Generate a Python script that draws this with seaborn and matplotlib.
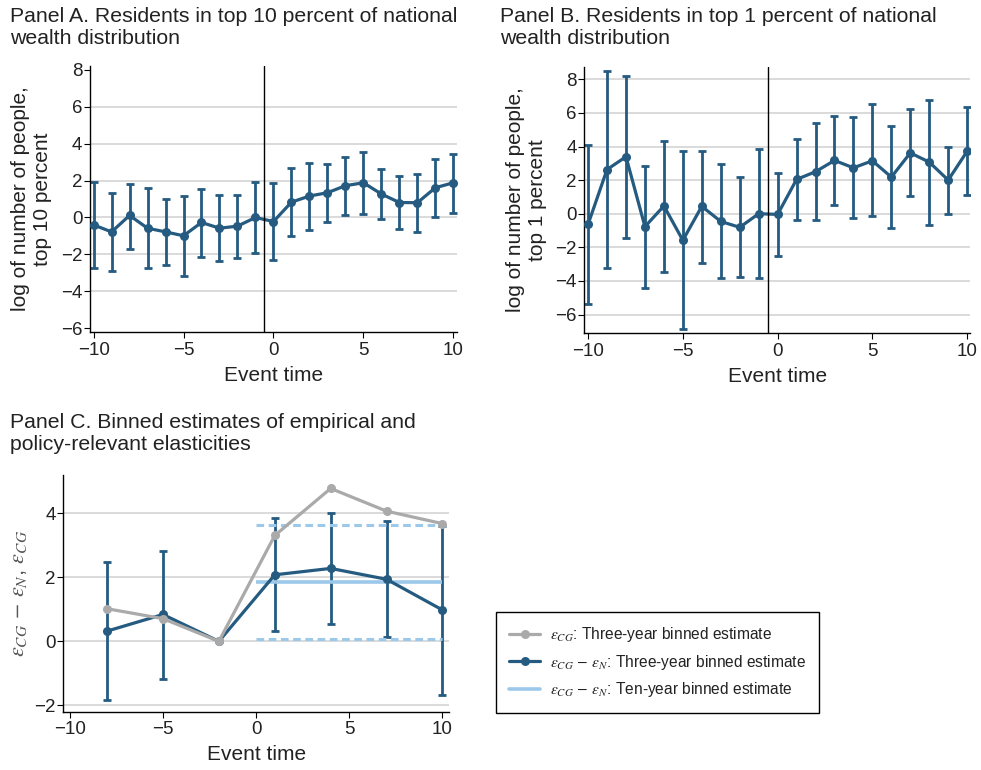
import numpy as np
import pandas as pd
import matplotlib
matplotlib.use("Agg")
import matplotlib.pyplot as plt
import seaborn as sns
from matplotlib.lines import Line2D

# ---------------- data ----------------
event_time = list(range(-10, 11))

a_est = [-0.40, -0.78, 0.11, -0.58, -0.78, -0.99, -0.27, -0.58, -0.47, 0.00, -0.22,
         0.83, 1.16, 1.34, 1.72, 1.88, 1.27, 0.81, 0.80, 1.61, 1.88]
a_hi = [1.92, 1.34, 1.83, 1.57, 0.99, 1.16, 1.56, 1.21, 1.23, 1.93, 1.84,
        2.68, 2.95, 2.91, 3.25, 3.56, 2.60, 2.24, 2.35, 3.18, 3.45]
a_lo = [-2.75, -2.88, -1.68, -2.71, -2.57, -3.18, -2.15, -2.37, -2.19, -1.93, -2.28,
        -0.99, -0.67, -0.25, 0.13, 0.20, -0.07, -0.61, -0.76, 0.00, 0.25]

b_est = [-0.63, 2.63, 3.39, -0.77, 0.46, -1.58, 0.44, -0.46, -0.81, 0.00, -0.04,
         2.04, 2.50, 3.17, 2.73, 3.15, 2.18, 3.62, 3.07, 2.00, 3.72]
b_hi = [4.08, 8.48, 8.22, 2.83, 4.34, 3.74, 3.76, 2.95, 2.20, 3.84, 2.44,
        4.44, 5.39, 5.82, 5.74, 6.50, 5.23, 6.24, 6.79, 3.96, 6.34]
b_lo = [-5.39, -3.23, -1.47, -4.40, -3.45, -6.87, -2.93, -3.84, -3.78, -3.84, -2.53,
        -0.38, -0.40, 0.51, -0.28, -0.16, -0.87, 1.03, -0.65, 0.00, 1.11]

c_time = [-8, -5, -2, 1, 4, 7, 10]
c_diff = [0.32, 0.84, 0.00, 2.08, 2.28, 1.94, 0.98]
c_diff_hi = [2.47, 2.84, 0.00, 3.86, 4.02, 3.76, 3.60]
c_diff_lo = [-1.82, -1.19, 0.00, 0.31, 0.55, 0.14, -1.68]
c_cg = [1.02, 0.71, 0.00, 3.31, 4.78, 4.07, 3.68]

ten_year_span = [0, 10]
ten_year_est = 1.87
ten_year_hi = 3.65
ten_year_lo = 0.08

title_a = "Panel A. Residents in top 10 percent of national\nwealth distribution"
title_b = "Panel B. Residents in top 1 percent of national\nwealth distribution"
title_c = "Panel C. Binned estimates of empirical and\npolicy-relevant elasticities"
ylab_a = "log of number of people,\ntop 10 percent"
ylab_b = "log of number of people,\ntop 1 percent"
ylab_c = r"$\varepsilon_{CG}$ $-$ $\varepsilon_N$, $\varepsilon_{CG}$"
xlab = "Event time"
leg_labels = [r"$\varepsilon_{CG}$: Three-year binned estimate",
              r"$\varepsilon_{CG}$ $-$ $\varepsilon_{N}$: Three-year binned estimate",
              r"$\varepsilon_{CG}$ $-$ $\varepsilon_{N}$: Ten-year binned estimate"]

# ---------------- style ----------------
sns.set_theme(style="white")
plt.rcParams["font.family"] = ["Liberation Sans", "DejaVu Sans"]
plt.rcParams["mathtext.fontset"] = "stix"
plt.rcParams["axes.unicode_minus"] = True

DARK = "#255b80"
GRAY = "#aaaaaa"
LIGHT = "#9cc8ea"
GRID = "#d4d4d4"
TXT = "#222222"

fig = plt.figure(figsize=(9.81, 7.70), dpi=100)


def style_axes(ax, xlim, ylim, yticks, hide_edge_grid=False):
    ax.set_xlim(*xlim)
    ax.set_ylim(*ylim)
    ax.set_xticks([-10, -5, 0, 5, 10])
    ax.set_yticks(yticks)
    for s in ["top", "right"]:
        ax.spines[s].set_visible(False)
    for s in ["left", "bottom"]:
        ax.spines[s].set_color("black")
        ax.spines[s].set_linewidth(1.0)
    ax.tick_params(axis="both", which="major", direction="out", length=4,
                   width=0.8, color="black", labelsize=13.5, labelcolor=TXT,
                   left=True, bottom=True)
    ax.tick_params(axis="y", pad=1.5)
    ax.tick_params(axis="x", pad=3)
    ax.yaxis.grid(True, color=GRID, linewidth=1.2)
    ax.xaxis.grid(False)
    ax.set_axisbelow(True)
    if hide_edge_grid:
        gl = ax.get_ygridlines()
        gl[0].set_visible(False)
        gl[-1].set_visible(False)
    ax.set_xlabel(xlab, fontsize=15, color=TXT, labelpad=5)


def event_panel(ax, est, lo, hi):
    df = pd.DataFrame({"t": event_time, "est": est})
    est_a = np.array(est)
    ax.errorbar(event_time, est_a, yerr=[est_a - np.array(lo), np.array(hi) - est_a],
                fmt="none", ecolor=DARK, elinewidth=2.0, capsize=2.6,
                capthick=2.0, zorder=2)
    sns.lineplot(data=df, x="t", y="est", ax=ax, color=DARK, linewidth=2.3,
                 marker="o", markersize=6.5, markeredgewidth=0, zorder=3)
    ax.axvline(-0.5, color="black", linewidth=1.0, zorder=4)
    ax.set_ylabel("")


# Panel A
axA = fig.add_axes([0.0917, 0.5688, 0.3741, 0.3455])
event_panel(axA, a_est, a_lo, a_hi)
style_axes(axA, (-10.2, 10.2), (-6.2, 8.2), [-6, -4, -2, 0, 2, 4, 6, 8], hide_edge_grid=True)
axA.set_ylabel(ylab_a, fontsize=15, color=TXT, labelpad=6, linespacing=1.2)

# Panel B
axB = fig.add_axes([0.5956, 0.5675, 0.3932, 0.3459])
event_panel(axB, b_est, b_lo, b_hi)
style_axes(axB, (-10.2, 10.15), (-7.1, 8.75), [-6, -4, -2, 0, 2, 4, 6, 8])
axB.set_ylabel(ylab_b, fontsize=15, color=TXT, labelpad=6, linespacing=1.2)

# Panel C
axC = fig.add_axes([0.0645, 0.0757, 0.3932, 0.3074])
ct = np.array(c_time)
cd = np.array(c_diff)
mask = ct != -2
axC.errorbar(ct[mask], cd[mask],
             yerr=[cd[mask] - np.array(c_diff_lo)[mask], np.array(c_diff_hi)[mask] - cd[mask]],
             fmt="none", ecolor=DARK, elinewidth=2.0, capsize=2.6, capthick=2.0, zorder=2)
axC.hlines([ten_year_est], *ten_year_span, color=LIGHT, linewidth=2.6, zorder=3)
axC.hlines([ten_year_hi, ten_year_lo], *ten_year_span, color=LIGHT, linewidth=2.2,
           linestyles=(0, (2.5, 1.5)), zorder=3)
dfc = pd.DataFrame({"t": c_time, "diff": c_diff, "cg": c_cg})
sns.lineplot(data=dfc, x="t", y="diff", ax=axC, color=DARK, linewidth=2.3,
             marker="o", markersize=6.5, markeredgewidth=0, zorder=4)
sns.lineplot(data=dfc, x="t", y="cg", ax=axC, color=GRAY, linewidth=2.3,
             marker="o", markersize=6.5, markeredgewidth=0, zorder=5)
style_axes(axC, (-10.35, 10.35), (-2.2, 5.2), [-2, 0, 2, 4])
axC.set_ylabel(ylab_c, fontsize=16, color="#555555", labelpad=4)

# Titles
fig.text(10 / 981, 1 - 7 / 770, title_a, fontsize=15.3, color=TXT, va="top", ha="left",
         linespacing=1.2)
fig.text(500 / 981, 1 - 7 / 770, title_b, fontsize=15.3, color=TXT, va="top", ha="left",
         linespacing=1.2)
fig.text(10 / 981, 1 - 413 / 770, title_c, fontsize=15.3, color=TXT, va="top", ha="left",
         linespacing=1.2)

# Legend
handles = [Line2D([], [], color=GRAY, linewidth=2.3, marker="o", markersize=6.5, markeredgewidth=0),
           Line2D([], [], color=DARK, linewidth=2.3, marker="o", markersize=6.5, markeredgewidth=0),
           Line2D([], [], color=LIGHT, linewidth=2.6)]
leg = fig.legend(handles, leg_labels, loc="upper left",
                 bbox_to_anchor=(496 / 981, 1 - 612 / 770), fontsize=11.2,
                 frameon=True, fancybox=False, edgecolor="black", framealpha=1,
                 handlelength=2.0, handletextpad=0.6, borderpad=0.85, labelspacing=0.55,
                 borderaxespad=0)
leg.get_frame().set_linewidth(1.0)
for t in leg.get_texts():
    t.set_color(TXT)

fig.savefig("out.png", dpi=100)
